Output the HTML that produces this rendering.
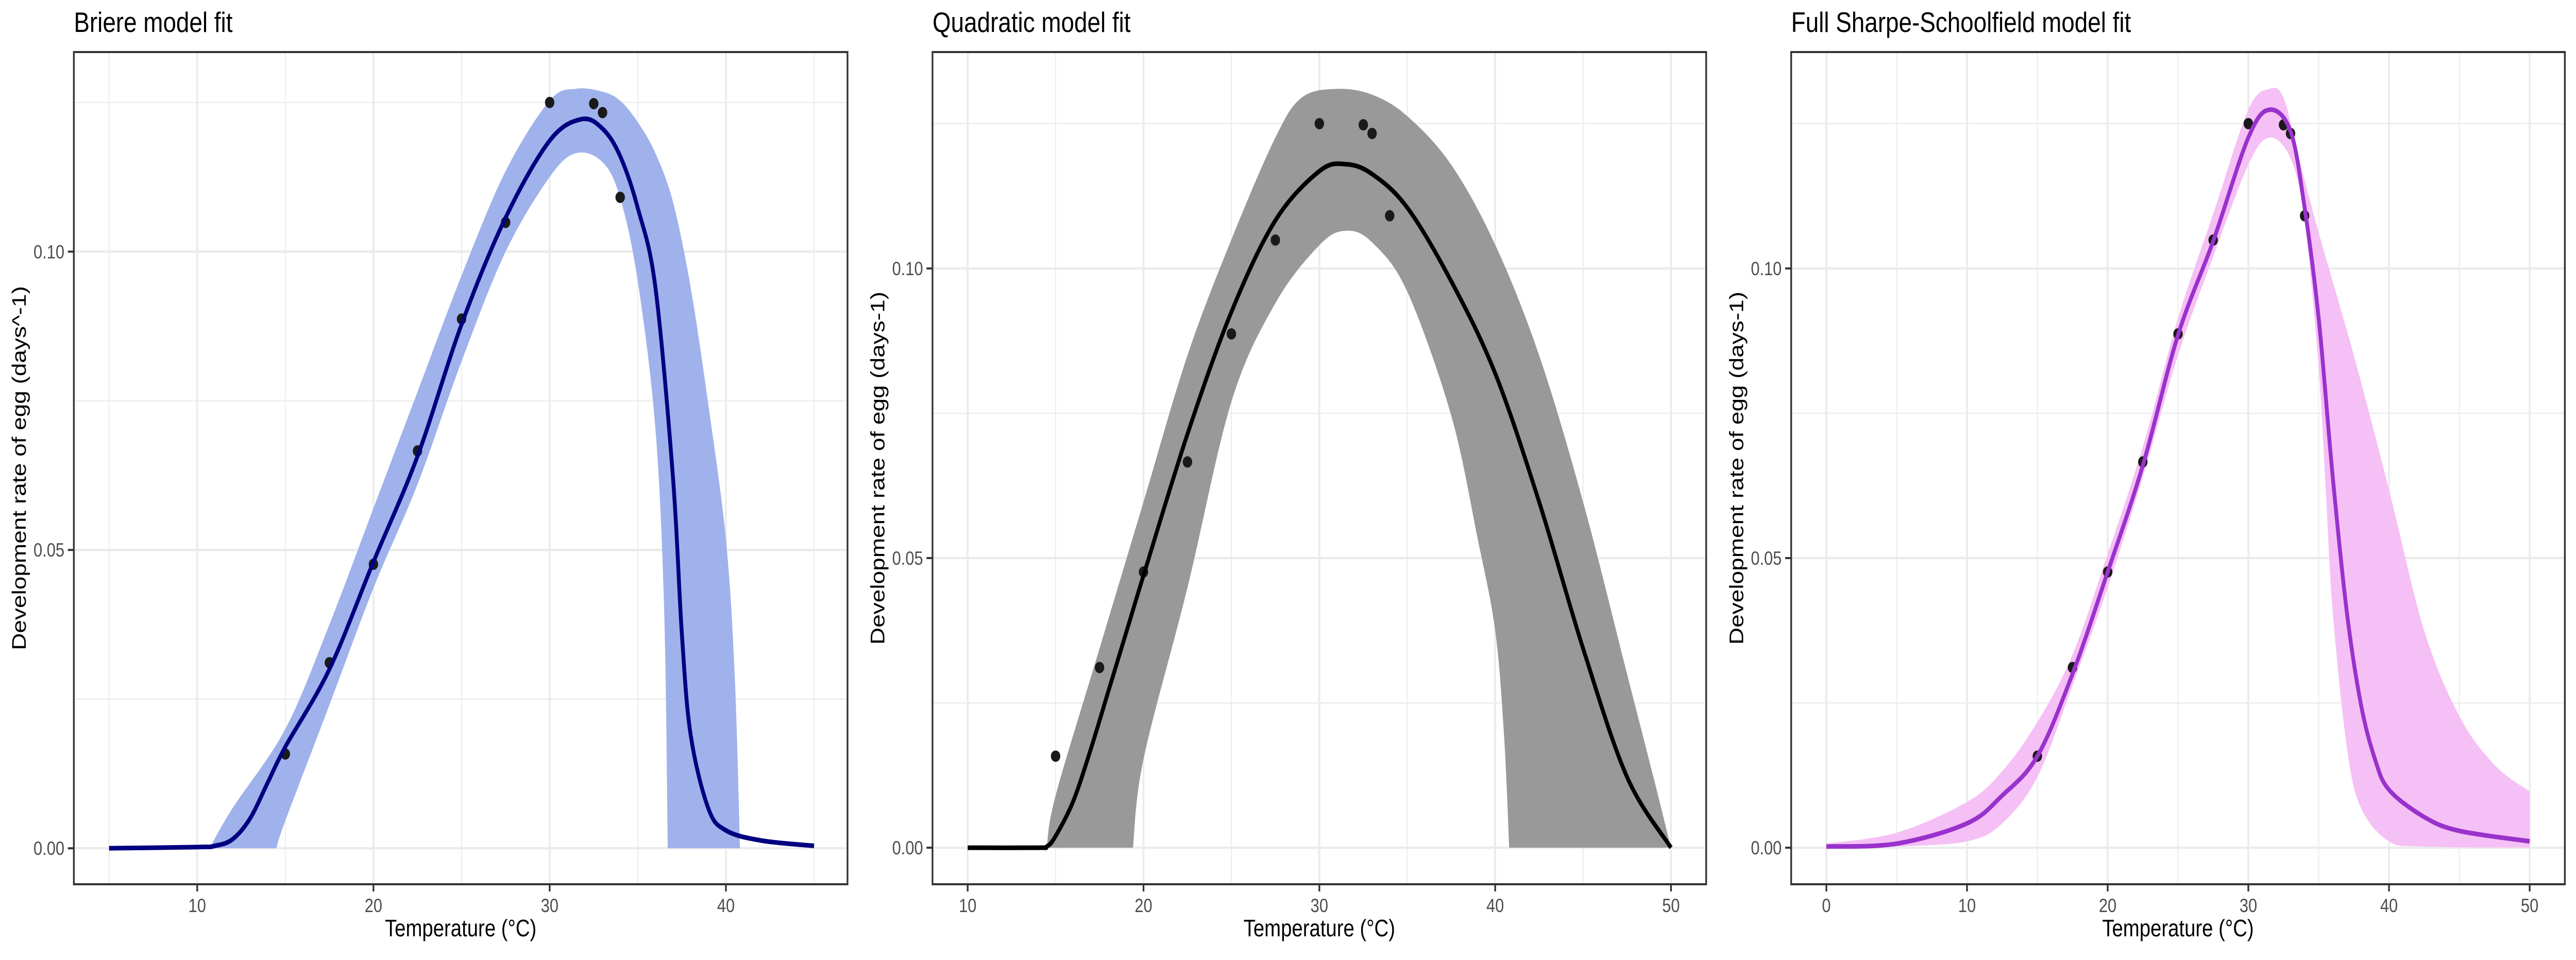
<!DOCTYPE html>
<html><head><meta charset="utf-8"><style>
html,body{margin:0;padding:0;background:#fff;width:100%;height:100%;overflow:hidden;}
svg{display:block;font-family:"Liberation Sans",sans-serif;width:100vw;height:100vh;}
</style></head><body>
<svg id="root" viewBox="0 0 6000 1863" preserveAspectRatio="none" xmlns="http://www.w3.org/2000/svg"></svg>
<script>
// ---- shared data ----
const obsTemp = [15,17.5,20,22.5,25,27.5,30,32.5,33,34];
const obsRate = [0.0158,0.0311,0.0476,0.0666,0.0887,0.1049,0.1250,0.1248,0.1233,0.1091];
const yTicks = [0,0.05,0.10];
const yTickLabels = ["0.00","0.05","0.10"];
// Briere
const brT = [5,10,11,12,13,14,15,17.5,20,22.5,25,27.5,30,31.8,33,34,35,36,37,37.5,38,39,40,42,45];
const brFit = [0,0.0002,0.0004,0.0015,0.005,0.011,0.017,0.030,0.048,0.0657,0.0878,0.1057,0.1186,0.1222,0.1206,0.116,0.1073,0.094,0.062,0.036,0.019,0.0067,0.003,0.0013,0.0004];
const brUpT = [10.7,12,15,17.5,20,22.5,25,27.5,30,31.5,33,34,35,36,37,38,39,40,40.5,40.8];
const brUp = [0,0.0067,0.020,0.0375,0.057,0.0765,0.096,0.1135,0.1253,0.1273,0.1268,0.1253,0.1217,0.1165,0.1083,0.094,0.0744,0.0518,0.029,0];
const brLoT = [14.5,15,17.5,20,22.5,25,27.5,30,31.5,33,34,35,36,36.5,36.7];
const brLo = [0,0.0046,0.024,0.0436,0.061,0.0816,0.1,0.1125,0.1165,0.115,0.109,0.095,0.0703,0.0395,0];
const brXTicks = [10,20,30,40];
// Quadratic
const qT = [10,14,14.5,15,16,17,18,19,20,22.5,25,27.5,30,31.5,33,35,37.5,40,42.5,45,47.5,50];
const qFit = [0,0,0.0002,0.002,0.008,0.017,0.027,0.037,0.047,0.0714,0.0925,0.1083,0.1168,0.118,0.1163,0.1105,0.0978,0.0819,0.0597,0.0344,0.0122,0];
const qUpT = [14.5,15,17.5,20,22.5,25,27.5,29,31,33,35,37.5,40,42.5,45,47.5,49,50];
const qUp = [0,0.009,0.0344,0.0597,0.085,0.105,0.1226,0.1295,0.131,0.130,0.1263,0.1179,0.1041,0.085,0.0597,0.030,0.0122,0];
const qLoT = [19.4,20,22.5,25,27.5,30,31.5,33,35,37.5,39,40,40.5,40.8];
const qLo = [0,0.0153,0.0449,0.077,0.094,0.104,0.1065,0.1045,0.096,0.0746,0.0534,0.0375,0.0196,0];
const qXTicks = [10,20,30,40,50];
// Sharpe-Schoolfield
const ssT = [0,5,10,12.5,15,17.5,20,22.5,25,27.5,30,31.5,33,34,35,36,37,38,39,40,42.5,45,50];
const ssFit = [0.0002,0.0007,0.0042,0.009,0.0158,0.030,0.0476,0.066,0.0885,0.1047,0.1226,0.1274,0.1237,0.1105,0.0914,0.064,0.0407,0.0248,0.0153,0.010,0.0053,0.0029,0.0011];
const ssUpT = [0,5,10,12.5,15,17.5,20,22.5,25,27.5,30,31.5,32.5,33.5,35,37.5,40,42.5,45,47.5,50];
const ssUp = [0.0007,0.0026,0.0079,0.0132,0.0217,0.0333,0.0507,0.0692,0.0914,0.1094,0.1274,0.131,0.1295,0.12,0.1062,0.085,0.0618,0.0375,0.0227,0.0143,0.0097];
const ssLoT = [0,5,10,12.5,15,17.5,20,22.5,25,27.5,30,31.5,33,34,35,35.5,36,37,38,40,42.5,50];
const ssLo = [0,0.0002,0.0011,0.0042,0.0122,0.028,0.0449,0.064,0.085,0.102,0.1179,0.1226,0.119,0.1083,0.0829,0.0618,0.0407,0.0174,0.0069,0.0011,0.0002,0];
const ssXTicks = [0,10,20,30,40,50];

const NS="http://www.w3.org/2000/svg";
const root=document.getElementById('root');
function mk(tag,attrs,parent){const e=document.createElementNS(NS,tag);for(const k in attrs)e.setAttribute(k,attrs[k]);(parent||root).appendChild(e);return e;}
function smooth(pts){
 let s='';
 for(let i=0;i<pts.length-1;i++){
  const p0=pts[Math.max(0,i-1)],p1=pts[i],p2=pts[i+1],p3=pts[Math.min(pts.length-1,i+2)];
  const t=0.5/3;
  const c1=[p1[0]+(p2[0]-p0[0])*t,p1[1]+(p2[1]-p0[1])*t];
  const c2=[p2[0]-(p3[0]-p1[0])*t,p2[1]-(p3[1]-p1[1])*t];
  s+=` C${c1[0]},${c1[1]} ${c2[0]},${c2[1]} ${p2[0]},${p2[1]}`;
 }
 return s;
}

const panels=[
 {off:0,title:"Briere model fit",ylab:"Development rate of egg (days^-1)",xmin:3,xmax:46.9,ymin:-0.00603,ymax:0.13345,
  xt:brXTicks,xminor:[5,15,25,35,45],T:brT,F:brFit,uT:brUpT,U:brUp,lT:brLoT,L:brLo,band:"#a0b2eb",line:"#000080",name:"briere"},
 {off:2000,title:"Quadratic model fit",ylab:"Development rate of egg (days-1)",xmin:8,xmax:52,ymin:-0.00631,ymax:0.13736,
  xt:qXTicks,xminor:[15,25,35,45],T:qT,F:qFit,uT:qUpT,U:qUp,lT:qLoT,L:qLo,band:"#999999",line:"#000000",name:"quadratic"},
 {off:4000,title:"Full Sharpe-Schoolfield model fit",ylab:"Development rate of egg (days-1)",xmin:-2.5,xmax:52.5,ymin:-0.00631,ymax:0.13736,
  xt:ssXTicks,xminor:[5,15,25,35,45],T:ssT,F:ssFit,uT:ssUpT,U:ssUp,lT:ssLoT,L:ssLo,band:"#f5c0f5",line:"#9932cc",name:"sharpe-schoolfield"}
];

panels.forEach(p=>{
 const L=172+p.off,R=1974+p.off,Tp=101,B=1716;
 const sx=v=>L+(v-p.xmin)/(p.xmax-p.xmin)*(R-L);
 const sy=v=>B-(v-p.ymin)/(p.ymax-p.ymin)*(B-Tp);
 const g=mk('g',{});
 
 
 const t=mk('text',{x:L,y:62,'font-size':55,fill:'#000'},g);t.textContent=p.title;
 
 [0.025,0.075,0.125].forEach(v=>{const e=mk('line',{x1:L,x2:R,y1:sy(v),y2:sy(v),stroke:'#ebebeb','stroke-width':2.3},g);});
 p.xminor.forEach(v=>{const e=mk('line',{x1:sx(v),x2:sx(v),y1:Tp,y2:B,stroke:'#ebebeb','stroke-width':2.3},g);});
 yTicks.forEach(v=>{const e=mk('line',{x1:L,x2:R,y1:sy(v),y2:sy(v),stroke:'#ebebeb','stroke-width':4.5},g);});
 p.xt.forEach(v=>{const e=mk('line',{x1:sx(v),x2:sx(v),y1:Tp,y2:B,stroke:'#ebebeb','stroke-width':4.5},g);});
 const up=p.uT.map((x,i)=>[sx(x),sy(p.U[i])]);
 const lo=p.lT.map((x,i)=>[sx(x),sy(p.L[i])]).reverse();
 const d='M'+up[0][0]+','+up[0][1]+smooth(up)+' L'+lo[0][0]+','+lo[0][1]+smooth(lo)+'Z';
 const band=mk('path',{d:d,fill:p.band},g);
 
 obsTemp.forEach((x,i)=>{const c=mk('circle',{cx:sx(x),cy:sy(obsRate[i]),r:11,fill:'#1a1a1a'},g);});
 const fp=p.T.map((x,i)=>[sx(x),sy(p.F[i])]);
 const ln=mk('path',{d:'M'+fp[0][0]+','+fp[0][1]+smooth(fp),fill:'none',stroke:p.line,'stroke-width':9,'stroke-linejoin':'round','stroke-linecap':'butt'},g);
 
 const bd=mk('rect',{x:L,y:Tp,width:R-L,height:B-Tp,fill:'none',stroke:'#333333','stroke-width':4},g);
 
 yTicks.forEach((v,i)=>{
  const tk=mk('line',{x1:L-14,x2:L,y1:sy(v),y2:sy(v),stroke:'#333','stroke-width':4},g);
  
  const tl=mk('text',{x:L-22,y:sy(v)+13,'font-size':37,fill:'#4d4d4d','text-anchor':'end'},g);tl.textContent=yTickLabels[i];
  
 });
 p.xt.forEach(v=>{
  const tk=mk('line',{x1:sx(v),x2:sx(v),y1:B,y2:B+14,stroke:'#333','stroke-width':4},g);
  
  const tl=mk('text',{x:sx(v),y:B+54,'font-size':37,fill:'#4d4d4d','text-anchor':'middle'},g);tl.textContent=String(v);
  
 });
 const xa=mk('text',{x:(L+R)/2,y:1817,'font-size':46,fill:'#000','text-anchor':'middle'},g);xa.textContent="Temperature (°C)";
 
 const cy=(Tp+B)/2;
 const ya=mk('text',{x:0,y:0,'font-size':46,fill:'#000','text-anchor':'middle',transform:`translate(${p.off+60},${cy}) rotate(-90)`},g);ya.textContent=p.ylab;
 
});
</script>
</body></html>
